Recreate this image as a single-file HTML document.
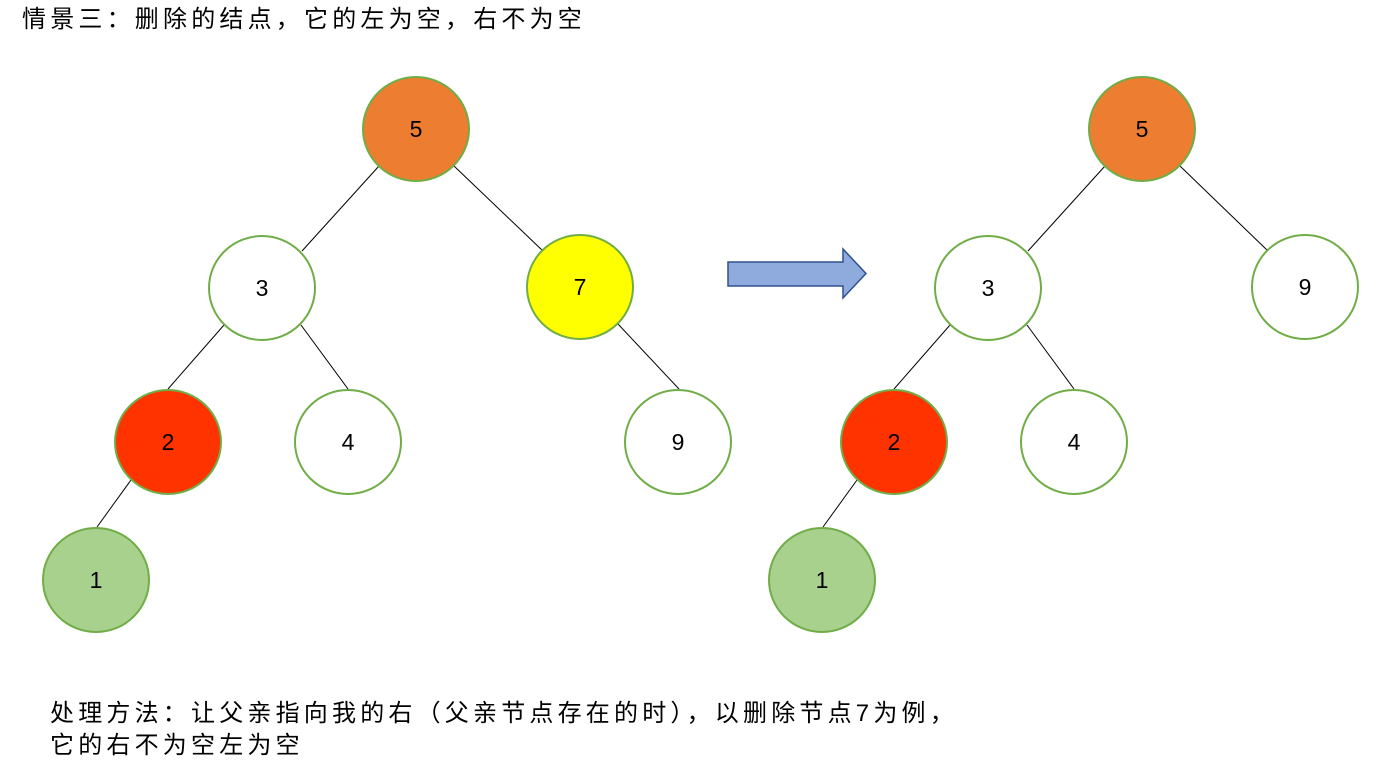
<!DOCTYPE html>
<html><head><meta charset="utf-8"><style>
body{margin:0;background:#fff;width:1391px;height:778px;overflow:hidden;position:relative;font-family:"Liberation Sans","Noto Sans CJK SC",sans-serif;}
.t{position:absolute;font-size:24px;letter-spacing:4.2px;white-space:nowrap;color:#000;line-height:1;}
</style></head><body>
<div class="t" style="left:22px;top:8px;">情景三：删除的结点，它的左为空，右不为空</div>
<div class="t" style="left:50px;top:702px;">处理方法：让父亲指向我的右（父亲节点存在的时），以删除节点7为例，</div>
<div class="t" style="left:50px;top:734px;">它的右不为空左为空</div>
<svg width="1391" height="778" style="position:absolute;left:0;top:0" font-family="Liberation Sans, sans-serif" font-size="23">
<g stroke="#000" stroke-width="1">
<line x1="379" y1="166" x2="302" y2="251"/><line x1="454" y1="166" x2="543" y2="251"/>
<line x1="224" y1="325" x2="168" y2="389"/><line x1="301" y1="325" x2="348" y2="389"/>
<line x1="618" y1="324" x2="679" y2="389"/><line x1="131" y1="480" x2="97" y2="527"/>
<line x1="1105" y1="166" x2="1028" y2="251"/><line x1="1180" y1="166" x2="1268" y2="251"/>
<line x1="950" y1="325" x2="894" y2="389"/><line x1="1027" y1="325" x2="1074" y2="389"/>
<line x1="857" y1="480" x2="823" y2="527"/>
</g>
<g stroke="#70ad47" stroke-width="2">
<ellipse cx="416" cy="129" rx="53" ry="52" fill="#ed7d31"/>
<ellipse cx="262" cy="288" rx="53" ry="52" fill="#fff"/>
<ellipse cx="580" cy="287" rx="53" ry="52" fill="#ffff00"/>
<ellipse cx="168" cy="442" rx="53" ry="52" fill="#ff3300"/>
<ellipse cx="348" cy="442" rx="53" ry="52" fill="#fff"/>
<ellipse cx="678" cy="442" rx="53" ry="52" fill="#fff"/>
<ellipse cx="96" cy="580" rx="53" ry="52" fill="#a9d18e"/>
<ellipse cx="1142" cy="129" rx="53" ry="52" fill="#ed7d31"/>
<ellipse cx="988" cy="288" rx="53" ry="52" fill="#fff"/>
<ellipse cx="1305" cy="287" rx="53" ry="52" fill="#fff"/>
<ellipse cx="894" cy="442" rx="53" ry="52" fill="#ff3300"/>
<ellipse cx="1074" cy="442" rx="53" ry="52" fill="#fff"/>
<ellipse cx="822" cy="580" rx="53" ry="52" fill="#a9d18e"/>
</g>
<g text-anchor="middle" fill="#000">
<text x="416" y="137">5</text><text x="262" y="296">3</text><text x="580" y="295">7</text>
<text x="168" y="450">2</text><text x="348" y="450">4</text><text x="678" y="450">9</text><text x="96" y="588">1</text>
<text x="1142" y="137">5</text><text x="988" y="296">3</text><text x="1305" y="295">9</text>
<text x="894" y="450">2</text><text x="1074" y="450">4</text><text x="822" y="588">1</text>
</g>
<polygon points="728,262 843,262 843,249 866,273.5 843,298 843,286 728,286" fill="#8faadc" stroke="#2f528f" stroke-width="1.5"/>
</svg>
</body></html>
